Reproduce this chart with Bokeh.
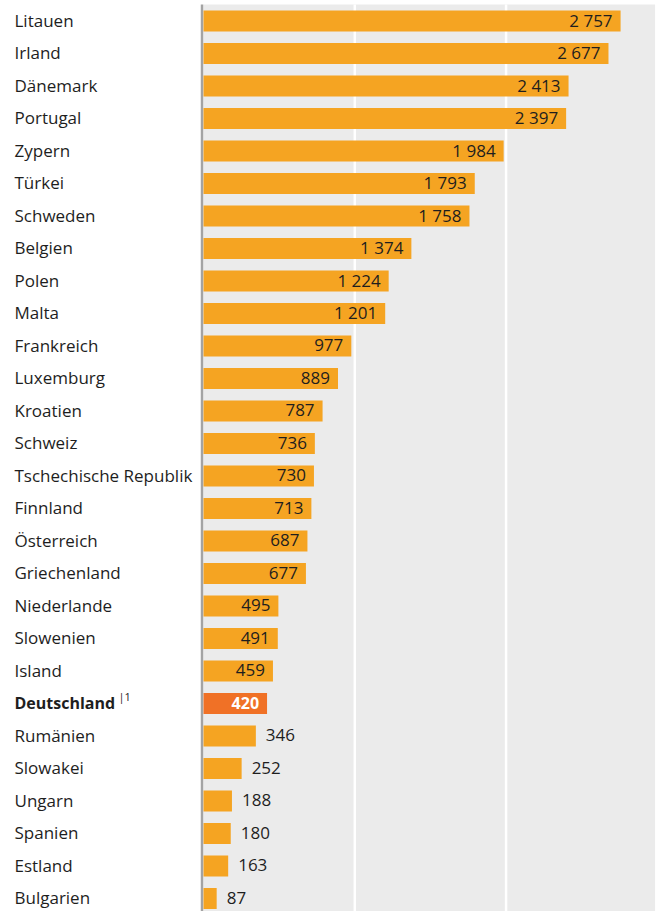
from bokeh.plotting import figure
from bokeh.models import Range1d, ColumnDataSource
from bokeh.core.properties import value
from bokeh.embed import file_html
from bokeh.resources import INLINE

countries = ["Litauen", "Irland", "Dänemark", "Portugal", "Zypern", "Türkei", "Schweden",
             "Belgien", "Polen", "Malta", "Frankreich", "Luxemburg", "Kroatien", "Schweiz",
             "Tschechische Republik", "Finnland", "Österreich", "Griechenland", "Niederlande",
             "Slowenien", "Island", "Deutschland", "Rumänien", "Slowakei", "Ungarn", "Spanien",
             "Estland", "Bulgarien"]
values = [2757, 2677, 2413, 2397, 1984, 1793, 1758, 1374, 1224, 1201, 977, 889, 787, 736,
          730, 713, 687, 677, 495, 491, 459, 420, 346, 252, 188, 180, 163, 87]
highlight = "Deutschland"
footnote = "|1"
grid_ticks = [1000, 2000]
axis_max = 2985

FONT = "Open Sans"
FS = "17px"
FS_B = "16px"
BAR = "#F5A422"
HL = "#F07126"
GREY = "#EBEBEB"
TXT = "#1e1e1e"

def fmt(v):
    return f"{v:,}".replace(",", " ")

n = len(countries)
ys = list(range(n))
W, H = 657, 911
XMIN, XMAX = -1342, 3001
px = W / (XMAX - XMIN)
ytop, ybot = -0.631, n - 1 + 0.4
py = H / (ybot - ytop)
grey_top = ytop + 4 / py

p = figure(width=W, height=H, x_range=Range1d(XMIN, XMAX),
           y_range=Range1d(ybot, ytop), toolbar_location=None,
           output_backend="svg", min_border=0)
p.axis.visible = False
p.grid.visible = False
p.outline_line_color = None
p.background_fill_color = "white"
p.border_fill_color = "white"

p.quad(left=[0], right=[axis_max], bottom=[ybot], top=[grey_top], fill_color=GREY, line_color=None)
p.segment(x0=grid_ticks, x1=grid_ticks, y0=[ybot] * len(grid_ticks), y1=[grey_top] * len(grid_ticks),
          line_color="white", line_width=2.5)
p.segment(x0=[-1.5 / px], x1=[-1.5 / px], y0=[ybot], y1=[grey_top], line_color="#A3A3A3", line_width=2.5)

colors = [HL if c == highlight else BAR for c in countries]
src = ColumnDataSource(dict(y=ys, v=values, c=colors))
p.hbar(y="y", left=0, right="v", height=0.65, fill_color="c", line_color=None, source=src)

common = dict(text_baseline="middle", text_font=value(FONT), y_offset=-1)

# country labels
norm = [i for i, c in enumerate(countries) if c != highlight]
hi = [i for i, c in enumerate(countries) if c == highlight]
p.text(x=[XMIN] * len(norm), y=[ys[i] for i in norm], text=[countries[i] for i in norm],
       x_offset=14, text_align="left", text_font_size=FS, text_color=TXT, **common)
p.text(x=[XMIN] * len(hi), y=[ys[i] for i in hi], text=[countries[i] for i in hi],
       x_offset=14, text_align="left", text_font_size=FS_B, text_font_style="bold",
       text_color=TXT, **common)
p.text(x=[XMIN] * len(hi), y=[ys[i] for i in hi], text=[footnote] * len(hi),
       x_offset=118, y_offset=-7, text_align="left", text_baseline="middle", text_font=value(FONT),
       text_font_size="11px", text_color=TXT)

# value labels
inside = [i for i, v in enumerate(values) if v >= 400 and countries[i] != highlight]
outside = [i for i, v in enumerate(values) if v < 400]
p.text(x=[values[i] for i in inside], y=[ys[i] for i in inside], text=[fmt(values[i]) for i in inside],
       x_offset=-8, text_align="right", text_font_size=FS, text_color=TXT, **common)
p.text(x=[values[i] for i in hi], y=[ys[i] for i in hi], text=[fmt(values[i]) for i in hi],
       x_offset=-8, text_align="right", text_font_size=FS_B, text_font_style="bold",
       text_color="white", **common)
p.text(x=[values[i] for i in outside], y=[ys[i] for i in outside], text=[fmt(values[i]) for i in outside],
       x_offset=10, text_align="left", text_font_size=FS, text_color=TXT, **common)

open("out.html", "w").write(file_html(p, INLINE))
